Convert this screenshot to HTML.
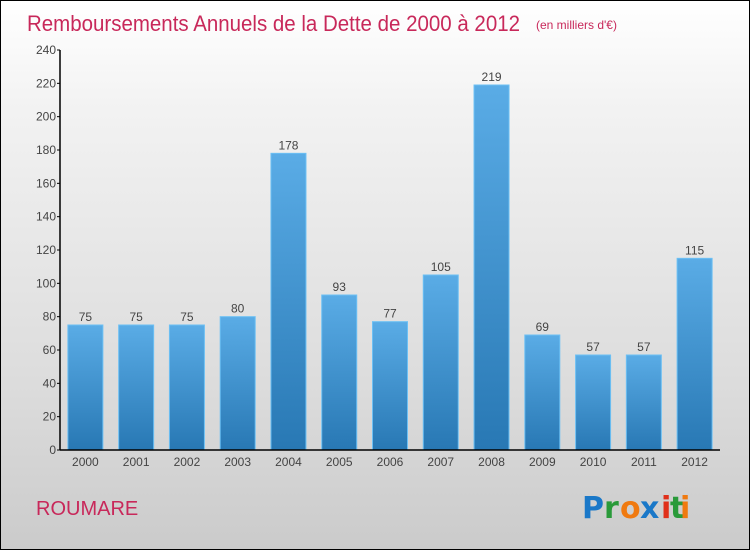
<!DOCTYPE html>
<html><head><meta charset="utf-8"><style>
body{margin:0;width:750px;height:550px;overflow:hidden;font-family:"Liberation Sans",sans-serif}
#c{position:absolute;left:0;top:0;width:748px;height:548px;border:1px solid #000;background:linear-gradient(#fff,#f2f2f2 20%,#dcdcdc 70%,#cbcbcb)}
</style></head><body>
<div id="c">
<svg width="750" height="550" id="s" style="position:absolute;left:-1px;top:-1px">
<defs><linearGradient id="g" x1="0" y1="0" x2="0" y2="1"><stop offset="0" stop-color="#5aace6"/><stop offset="1" stop-color="#2878b4"/></linearGradient></defs>
<text x="27" y="31" font-size="22" fill="#c8285a" textLength="493" lengthAdjust="spacingAndGlyphs">Remboursements Annuels de la Dette de 2000 à 2012</text>
<text x="536" y="29" font-size="12" fill="#c8285a">(en milliers d'€)</text>
<text x="36" y="515" font-size="20" fill="#c8285a">ROUMARE</text>
<g font-size="30" font-family="'DejaVu Sans',sans-serif" font-weight="bold">
<text x="582" y="518" fill="#1a78c8">P</text><text x="604" y="518" fill="#2a9a3a">r</text><text x="620" y="518" fill="#f07a10">o</text><text x="640" y="518" fill="#1a78c8">x</text><text x="661" y="518" fill="#e0301a">i</text><text x="670" y="518" fill="#2a9a3a">t</text><text x="680" y="518" fill="#f07a10">i</text></g>
<g id="plot"></g>
</svg></div>
<script>
const categories=["2000","2001","2002","2003","2004","2005","2006","2007","2008","2009","2010","2011","2012"];
const values=[75,75,75,80,178,93,77,105,219,69,57,57,115];
const ticks=[0,20,40,60,80,100,120,140,160,180,200,220,240];
const ns="http://www.w3.org/2000/svg",p=document.getElementById('plot');
const X0=60,X1=720,Y0=450,Y1=50,ymax=240;
const y=v=>Y0-(v/ymax)*(Y0-Y1);
const band=(X1-X0)/categories.length;
const x=i=>X0+band*(i+0.5);
function mk(t,a){const e=document.createElementNS(ns,t);for(const k in a)e.setAttribute(k,a[k]);p.appendChild(e);return e;}
values.forEach((v,i)=>{
const r=mk('rect',{x:x(i)-17.5,y:y(v),width:35,height:Y0-y(v),fill:'url(#g)',stroke:'#6cc0f4','stroke-width':1});


const l=mk('text',{x:x(i),y:y(v)-4,'text-anchor':'middle','font-size':12,fill:'#444'});l.textContent=v;


const c=mk('text',{x:x(i),y:Y0+16,'text-anchor':'middle','font-size':12,fill:'#444'});c.textContent=categories[i];


});
ticks.forEach(t=>{
mk('line',{x1:X0-3,x2:X0,y1:y(t),y2:y(t),stroke:'#000'});
const l=mk('text',{x:X0-4,y:y(t)+4,'text-anchor':'end','font-size':12,fill:'#444'});l.textContent=t;


});
const ya=mk('line',{x1:X0,x2:X0,y1:Y1,y2:Y0,stroke:'#000','stroke-width':1.5});


const xa=mk('line',{x1:X0,x2:X1,y1:Y0,y2:Y0,stroke:'#000','stroke-width':1.5});


</script></body></html>
